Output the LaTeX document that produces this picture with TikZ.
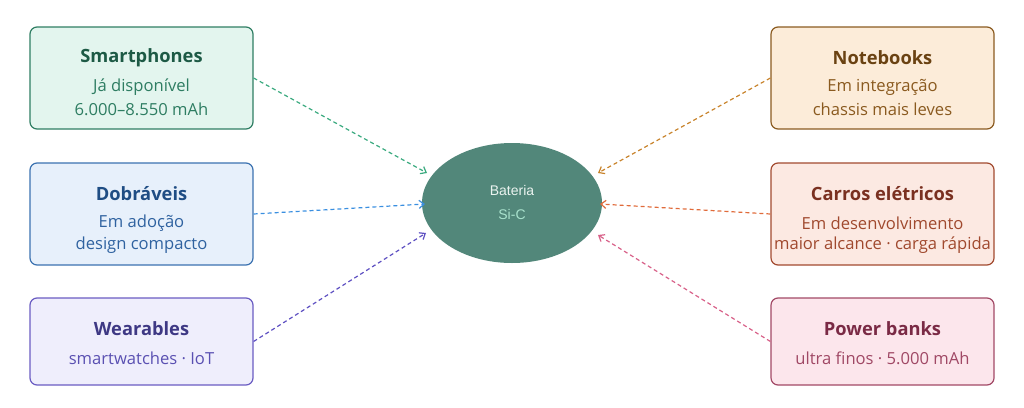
\documentclass[tikz,border=0pt]{standalone}
\usepackage{fontspec}
\setmainfont{Open Sans}
\newfontfamily\arialf{Liberation Sans}
\usetikzlibrary{arrows.meta,shapes.geometric}
\definecolor{gFill}{HTML}{E3F5EE}\definecolor{gLine}{HTML}{2F7E63}\definecolor{gTitle}{HTML}{1D5A45}\definecolor{gText}{HTML}{2E7D62}\definecolor{gArr}{HTML}{3AAA7F}
\definecolor{bFill}{HTML}{E7F0FB}\definecolor{bLine}{HTML}{3B72B0}\definecolor{bTitle}{HTML}{1F4D84}\definecolor{bText}{HTML}{2F62A0}\definecolor{bArr}{HTML}{3A8FE0}
\definecolor{vFill}{HTML}{EFEEFC}\definecolor{vLine}{HTML}{6A5CC2}\definecolor{vTitle}{HTML}{3E3884}\definecolor{vText}{HTML}{5A50B2}\definecolor{vArr}{HTML}{5E50C2}
\definecolor{oFill}{HTML}{FCECD9}\definecolor{oLine}{HTML}{8B5B20}\definecolor{oTitle}{HTML}{6A4212}\definecolor{oText}{HTML}{8A5A1F}\definecolor{oArr}{HTML}{C8832B}
\definecolor{rFill}{HTML}{FCE9E2}\definecolor{rLine}{HTML}{A24A2F}\definecolor{rTitle}{HTML}{7A3020}\definecolor{rText}{HTML}{A0492E}\definecolor{rArr}{HTML}{E06B3B}
\definecolor{pFill}{HTML}{FCE6EC}\definecolor{pLine}{HTML}{A24966}\definecolor{pTitle}{HTML}{7A2A45}\definecolor{pText}{HTML}{A04865}\definecolor{pArr}{HTML}{D86189}
\definecolor{core}{HTML}{52877A}\definecolor{coreA}{HTML}{EAF3EF}\definecolor{coreB}{HTML}{A9E2CD}
\begin{document}
\begin{tikzpicture}[x=1pt,y=-1pt,
  card/.style={draw=#1Line,fill=#1Fill,line width=1.2pt,rounded corners=7pt,minimum width=223pt,align=center,inner sep=0pt},
  ttl/.style={font=\bfseries\fontsize{18.3}{22}\selectfont},
  sub/.style={font=\fontsize{16.6}{22}\selectfont},
  conn/.style={draw=#1,line width=1.2pt,dash pattern=on 4pt off 3pt,-{Straight Barb[length=5pt,width=8pt,line width=1.2pt]}}]
\useasboundingbox (0,0) rectangle (1024,407);
% cards
\node[card=g,minimum height=102pt] (sp) at (141.5,78) {};
\node[ttl,text=gTitle] at (141.5,58) {Smartphones};
\node[sub,text=gText] at (141.5,87) {Já disponível};
\node[sub,text=gText] at (141.5,109.5) {6.000–8.550 mAh};
\node[card=b,minimum height=102pt] (db) at (141.5,214) {};
\node[ttl,text=bTitle] at (141.5,194) {Dobráveis};
\node[sub,text=bText] at (141.5,223) {Em adoção};
\node[sub,text=bText] at (141.5,245.5) {design compacto};
\node[card=v,minimum height=87pt] (wr) at (141.5,341.5) {};
\node[ttl,text=vTitle] at (141.5,329) {Wearables};
\node[sub,text=vText] at (141.5,358) {smartwatches · IoT};
\node[card=o,minimum height=102pt] (nb) at (882.5,78) {};
\node[ttl,text=oTitle] at (882.5,58) {Notebooks};
\node[sub,text=oText] at (882.5,87) {Em integração};
\node[sub,text=oText] at (882.5,109.5) {chassis mais leves};
\node[card=r,minimum height=102pt] (ce) at (882.5,214) {};
\node[ttl,text=rTitle] at (882.5,194) {Carros elétricos};
\node[sub,text=rText] at (882.5,223) {Em desenvolvimento};
\node[sub,text=rText] at (882.5,245.5) {maior alcance · carga rápida};
\node[card=p,minimum height=87pt] (pb) at (882.5,341.5) {};
\node[ttl,text=pTitle] at (882.5,329) {Power banks};
\node[sub,text=pText] at (882.5,358) {ultra finos · 5.000 mAh};
% core
\node[ellipse,fill=core,minimum width=180pt,minimum height=120pt,inner sep=0pt] (bat) at (512,203) {};
\node[font=\arialf\fontsize{14}{16}\selectfont,text=coreA] at (512,190.5) {Bateria};
\node[font=\arialf\fontsize{14}{16}\selectfont,text=coreB] at (512,214.5) {Si-C};
% connector ends
\coordinate (e1) at (427,173);
\coordinate (e2) at (425,204);
\coordinate (e3) at (426,233);
\coordinate (e4) at (598,173);
\coordinate (e5) at (600,204);
\coordinate (e6) at (598,235);
\draw[conn=gArr] (sp.east) -- (e1);
\draw[conn=bArr] (db.east) -- (e2);
\draw[conn=vArr] (wr.east) -- (e3);
\draw[conn=oArr] (nb.west) -- (e4);
\draw[conn=rArr] (ce.west) -- (e5);
\draw[conn=pArr] (pb.west) -- (e6);
\end{tikzpicture}
\end{document}
